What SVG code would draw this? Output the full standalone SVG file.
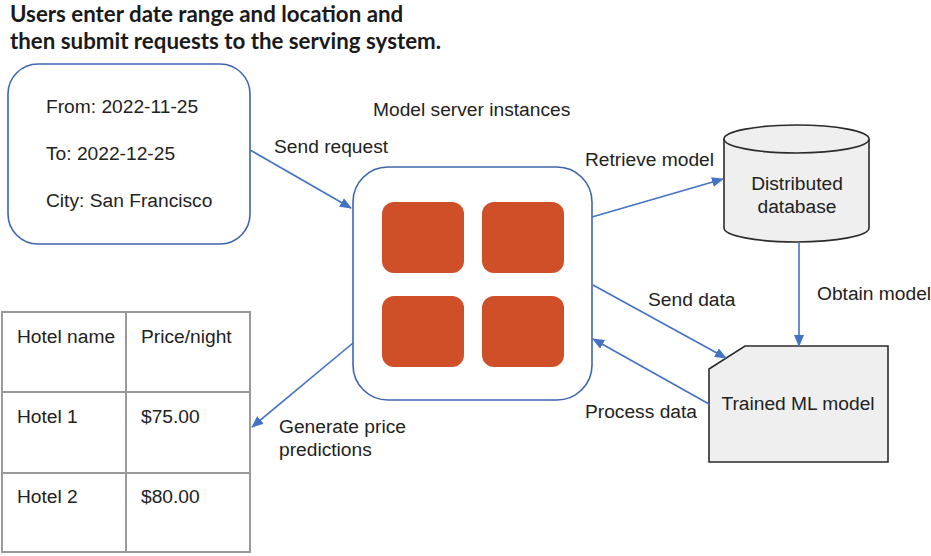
<svg xmlns="http://www.w3.org/2000/svg" width="931" height="556" viewBox="0 0 931 556">
<style>
.t{font-family:"Liberation Sans",Arial,sans-serif;font-size:19.2px;fill:#222}
.title{font-family:Lato,"Liberation Sans",sans-serif;font-weight:bold;font-size:22.3px;fill:#1a1a1a}
.box{fill:#fff;stroke:#3e67ab;stroke-width:1.6}
.inst{fill:#cf4f28}
.gray{fill:#eeefee;stroke:#2b2b2b;stroke-width:1.6}
.tbl{fill:none;stroke:#999;stroke-width:2}
.c{fill:none;stroke:#4472c4;stroke-width:1.6;marker-end:url(#ah)}
</style>
<defs>
<marker id="ah" viewBox="0 0 12 10" refX="11" refY="5" markerWidth="12" markerHeight="10" markerUnits="userSpaceOnUse" orient="auto">
<path d="M0,0 L12,5 L0,10 z" fill="#4472c4"/>
</marker>
</defs>
<rect width="931" height="556" fill="#fff"/>
<g id="title">
<text class="title" x="10" y="22">Users enter date range and location and</text>
<text class="title" x="10" y="49">then submit requests to the serving system.</text>
</g>
<g id="request">
<rect class="box" x="8" y="64" width="242" height="180" rx="30"/>
<text class="t" x="46" y="113">From: 2022-11-25</text>
<text class="t" x="46" y="160">To: 2022-12-25</text>
<text class="t" x="46" y="207">City: San Francisco</text>
</g>
<g id="server">
<text class="t" x="373" y="116">Model server instances</text>
<rect class="box" x="353" y="167" width="239" height="233" rx="35"/>
<rect class="inst" x="382" y="202" width="82" height="71" rx="12"/>
<rect class="inst" x="482" y="202" width="82" height="71" rx="12"/>
<rect class="inst" x="382" y="296" width="82" height="71" rx="12"/>
<rect class="inst" x="482" y="296" width="82" height="71" rx="12"/>
</g>
<g id="database">
<path class="gray" d="M724,139 L724,228 A72.5,14 0 0 0 869,228 L869,139 A72.5,14 0 0 0 724,139 Z"/>
<path class="gray" d="M724,139 A72.5,14 0 0 0 869,139" fill="none"/>
<text class="t" x="797" y="190" text-anchor="middle">Distributed</text>
<text class="t" x="797" y="213" text-anchor="middle">database</text>
</g>
<g id="model">
<path class="gray" d="M745,346 L888,346 L888,462 L709,462 L709,369 Z"/>
<text class="t" x="798" y="410" text-anchor="middle">Trained ML model</text>
</g>
<g id="table">
<rect class="tbl" x="2" y="312" width="248" height="240"/>
<line class="tbl" x1="126" y1="312" x2="126" y2="552"/>
<line class="tbl" x1="2" y1="392" x2="250" y2="392"/>
<line class="tbl" x1="2" y1="473" x2="250" y2="473"/>
<text class="t" x="17" y="343">Hotel name</text>
<text class="t" x="141" y="343">Price/night</text>
<text class="t" x="17" y="423">Hotel 1</text>
<text class="t" x="141" y="423">$75.00</text>
<text class="t" x="17" y="503">Hotel 2</text>
<text class="t" x="141" y="503">$80.00</text>
</g>
<g id="connectors">
<line class="c" x1="250" y1="150" x2="351" y2="208"/>
<line class="c" x1="592" y1="217" x2="723" y2="179"/>
<line class="c" x1="799" y1="242" x2="799" y2="346"/>
<line class="c" x1="593" y1="285" x2="726" y2="358"/>
<line class="c" x1="709" y1="404" x2="593" y2="339"/>
<line class="c" x1="353" y1="343" x2="252" y2="427"/>
<text class="t" x="274" y="153">Send request</text>
<text class="t" x="585" y="166">Retrieve model</text>
<text class="t" x="817" y="300">Obtain model</text>
<text class="t" x="648" y="306">Send data</text>
<text class="t" x="585" y="418">Process data</text>
<text class="t" x="279" y="433">Generate price</text>
<text class="t" x="279" y="456">predictions</text>
</g>
</svg>
